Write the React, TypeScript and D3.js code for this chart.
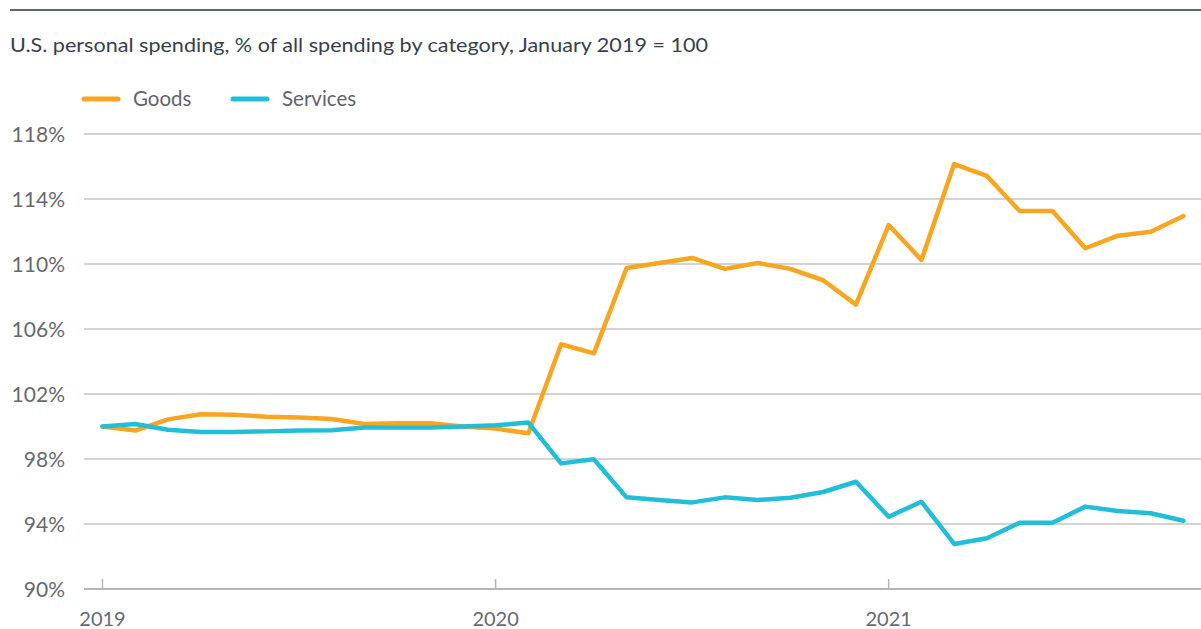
import React from "react";
import * as d3 from "d3";

const months: string[] = [
  "2019-01","2019-02","2019-03","2019-04","2019-05","2019-06","2019-07","2019-08","2019-09","2019-10","2019-11","2019-12",
  "2020-01","2020-02","2020-03","2020-04","2020-05","2020-06","2020-07","2020-08","2020-09","2020-10","2020-11","2020-12",
  "2021-01","2021-02","2021-03","2021-04","2021-05","2021-06","2021-07","2021-08","2021-09","2021-10",
];

const goods: number[] = [
  100.0, 99.75, 100.44, 100.75, 100.73, 100.6, 100.55, 100.46, 100.15, 100.2, 100.2, 100.0,
  99.87, 99.58, 105.06, 104.5, 109.75, 110.06, 110.37, 109.7, 110.06, 109.7, 109.0, 107.5,
  112.4, 110.25, 116.15, 115.42, 113.26, 113.26, 110.97, 111.74, 111.99, 112.95,
];

const services: number[] = [
  100.0, 100.15, 99.8, 99.66, 99.66, 99.7, 99.75, 99.77, 99.94, 99.94, 99.94, 100.0,
  100.07, 100.24, 97.73, 97.98, 95.64, 95.48, 95.33, 95.64, 95.48, 95.62, 95.97, 96.6,
  94.45, 95.37, 92.77, 93.12, 94.08, 94.08, 95.07, 94.8, 94.66, 94.2,
];

const yTicks: number[] = [90, 94, 98, 102, 106, 110, 114, 118];
const xTickLabels: string[] = ["2019", "2020", "2021"];
const xTickIndex: number[] = [0, 12, 24];

const seriesNames: string[] = ["Goods", "Services"];
const seriesColors: string[] = ["#F8A521", "#22BED7"];

const W = 1201;
const H = 629;
const FONT = "Lato, 'Open Sans', sans-serif";

export default function App() {
  const x = d3.scaleLinear().domain([0, months.length - 1]).range([102.5, 1183.5]);
  const y = d3.scaleLinear().domain([90, 118]).range([589, 134]);
  const line = d3
    .line<number>()
    .x((_, i) => x(i))
    .y((d) => y(d));
  const data = [goods, services];

  return (
    <svg
      width={W}
      height={H}
      style={{ position: "absolute", left: 0, top: 0, background: "#fff" }}
      fontFamily={FONT}
    >
      <line x1={10} x2={W} y1={10} y2={10} stroke="#5b6770" strokeWidth={2} />
      <text
        x={10}
        y={52}
        fontSize={20}
        fill="#36414b"
        textLength={698}
        lengthAdjust="spacingAndGlyphs"
      >
        U.S. personal spending, % of all spending by category, January 2019 = 100
      </text>

      {/* legend */}
      {seriesNames.map((name, i) => {
        const lx = [84, 233][i];
        return (
          <g key={name}>
            <line
              x1={lx}
              x2={lx + 34}
              y1={99}
              y2={99}
              stroke={seriesColors[i]}
              strokeWidth={5}
              strokeLinecap="round"
            />
            <text x={lx + 49} y={106} fontSize={20.5} fill="#5f646b">
              {name}
            </text>
          </g>
        );
      })}

      {/* grid + y labels */}
      {yTicks.map((t) => (
        <g key={t}>
          <line
            x1={84}
            x2={W}
            y1={y(t)}
            y2={y(t)}
            stroke={t === 90 ? "#b5b5b5" : "#c4c4c4"}
            strokeWidth={t === 90 ? 2 : 1.5}
          />
          <text
            x={65}
            y={y(t)}
            dy="0.36em"
            textAnchor="end"
            fontSize={21}
            fill="#666a70"
          >
            {t}%
          </text>
        </g>
      ))}

      {/* x ticks */}
      {xTickIndex.map((idx, i) => (
        <g key={idx}>
          <line
            x1={x(idx)}
            x2={x(idx)}
            y1={y(90) - 10}
            y2={y(90)}
            stroke="#b5b5b5"
            strokeWidth={1.5}
          />
          <text
            x={x(idx)}
            y={626}
            textAnchor="middle"
            fontSize={20}
            fill="#666a70"
          >
            {xTickLabels[i]}
          </text>
        </g>
      ))}

      {/* lines */}
      {data.map((d, i) => (
        <path
          key={seriesNames[i]}
          d={line(d) || ""}
          fill="none"
          stroke={seriesColors[i]}
          strokeWidth={4.5}
          strokeLinejoin="round"
          strokeLinecap="round"
        />
      ))}
    </svg>
  );
}
